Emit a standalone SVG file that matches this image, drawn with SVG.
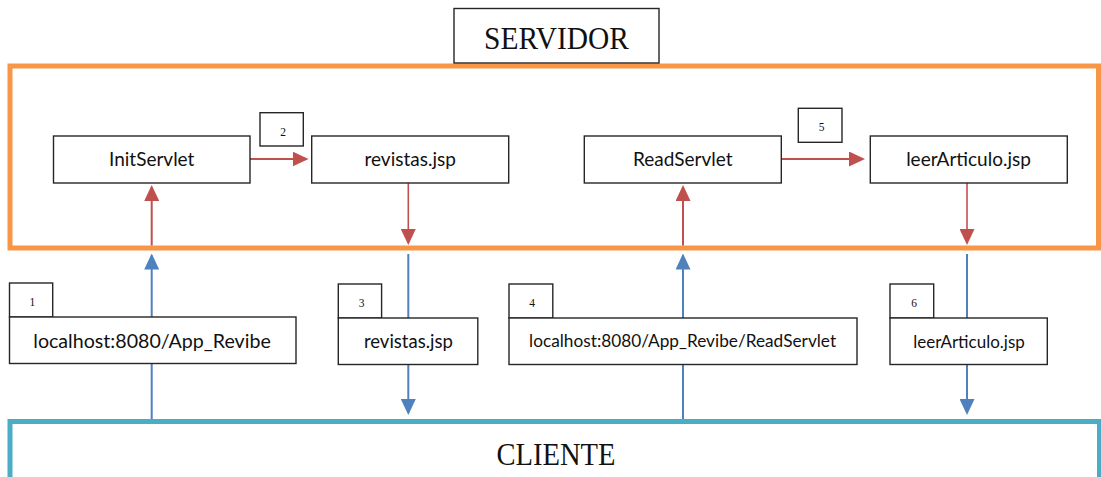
<svg xmlns="http://www.w3.org/2000/svg" width="1101" height="477" viewBox="0 0 1101 477">
  <style>
    .box { fill: #ffffff; stroke: #262626; stroke-width: 1.4; }
    .lbl { font-family: Lato, "Liberation Sans", sans-serif; fill: #111111; text-anchor: middle; }
    .num { font-family: "Liberation Serif", serif; font-size: 11.5px; fill: #111111; text-anchor: middle; }
    .title { font-family: "Liberation Serif", serif; font-size: 31px; fill: #111111; text-anchor: middle; }
    .red { stroke: #C0504D; stroke-width: 2; fill: none; }
    .redthin { stroke: #C0504D; stroke-width: 1.6; fill: none; }
    .blue { stroke: #4F81BD; stroke-width: 2; fill: none; }
  </style>
  <defs>
    <marker id="ahRed" viewBox="0 0 16 15" refX="14" refY="7.5" markerWidth="16" markerHeight="15" markerUnits="userSpaceOnUse" orient="auto">
      <path d="M0,0 L16,7.5 L0,15 z" fill="#C0504D"/>
    </marker>
    <marker id="ahBlue" viewBox="0 0 16 15" refX="14" refY="7.5" markerWidth="16" markerHeight="15" markerUnits="userSpaceOnUse" orient="auto">
      <path d="M0,0 L16,7.5 L0,15 z" fill="#4F81BD"/>
    </marker>
  </defs>
  <rect width="1101" height="477" fill="#ffffff"/>

  <g id="servidor-frame">
    <rect x="10" y="66" width="1088.5" height="182" fill="none" stroke="#F79646" stroke-width="5"/>
  </g>
  <g id="cliente">
    <rect x="10" y="421.5" width="1089.5" height="100" fill="none" stroke="#4BACC6" stroke-width="5"/>
    <text class="title" x="556" y="465" textLength="119" lengthAdjust="spacingAndGlyphs">CLIENTE</text>
  </g>

  <g id="connectors">
    <line class="red" x1="250" y1="159" x2="306.5" y2="159" marker-end="url(#ahRed)"/>
    <line class="red" x1="781.5" y1="159" x2="863" y2="159" marker-end="url(#ahRed)"/>
    <line class="red" x1="151.7" y1="245.5" x2="151.7" y2="187" marker-end="url(#ahRed)"/>
    <line class="red" x1="683" y1="245.5" x2="683" y2="187" marker-end="url(#ahRed)"/>
    <line class="redthin" x1="408.3" y1="183" x2="408.3" y2="243" marker-end="url(#ahRed)"/>
    <line class="redthin" x1="967" y1="183" x2="967" y2="243" marker-end="url(#ahRed)"/>
    <line class="blue" x1="151.7" y1="419" x2="151.7" y2="255.5" marker-end="url(#ahBlue)"/>
    <line class="blue" x1="683" y1="419" x2="683" y2="255.5" marker-end="url(#ahBlue)"/>
    <line class="blue" x1="408.3" y1="254" x2="408.3" y2="413" marker-end="url(#ahBlue)"/>
    <line class="blue" x1="967" y1="254" x2="967" y2="413" marker-end="url(#ahBlue)"/>
  </g>

  <g id="servidor">
    <rect class="box" x="454" y="8.5" width="205" height="54.5"/>
    <text class="title" x="556.5" y="49" textLength="145" lengthAdjust="spacingAndGlyphs">SERVIDOR</text>
  </g>

  <g id="initservlet">
    <rect class="box" x="53.5" y="136" width="196.5" height="47"/>
    <text class="lbl" x="151.7" y="166" font-size="19">InitServlet</text>
  </g>
  <g id="revistas-server">
    <rect class="box" x="311.7" y="136" width="197" height="47"/>
    <text class="lbl" x="410.2" y="166" font-size="19">revistas.jsp</text>
  </g>
  <g id="readservlet">
    <rect class="box" x="584.3" y="136" width="197" height="47"/>
    <text class="lbl" x="682.8" y="166" font-size="19">ReadServlet</text>
  </g>
  <g id="leerarticulo-server">
    <rect class="box" x="870.3" y="136" width="197" height="47"/>
    <text class="lbl" x="968.5" y="166" font-size="19">leerArticulo.jsp</text>
  </g>

  <g id="step2">
    <rect class="box" x="260" y="112.7" width="43.3" height="33.3"/>
    <text class="num" x="283" y="136">2</text>
  </g>
  <g id="step5">
    <rect class="box" x="798.3" y="108.3" width="43.7" height="34"/>
    <text class="num" x="821.5" y="131">5</text>
  </g>

  <g id="req1">
    <rect class="box" x="9.5" y="283" width="43.2" height="34"/>
    <text class="num" x="32.3" y="306">1</text>
    <rect class="box" x="9.5" y="317" width="286.5" height="46.5"/>
    <text class="lbl" x="152" y="348" font-size="18.5" textLength="237.5" lengthAdjust="spacingAndGlyphs">localhost:8080/App_Revibe</text>
  </g>
  <g id="resp3">
    <rect class="box" x="338.3" y="284" width="43.3" height="34"/>
    <text class="num" x="361.5" y="306.5">3</text>
    <rect class="box" x="338.3" y="318" width="139.5" height="46.5"/>
    <text class="lbl" x="408.4" y="348" font-size="18.5">revistas.jsp</text>
  </g>
  <g id="req4">
    <rect class="box" x="509" y="284" width="43.8" height="34"/>
    <text class="num" x="532" y="306.5">4</text>
    <rect class="box" x="509" y="318" width="348" height="46.5"/>
    <text class="lbl" x="682.6" y="347" font-size="16.5" textLength="307" lengthAdjust="spacingAndGlyphs">localhost:8080/App_Revibe/ReadServlet</text>
  </g>
  <g id="resp6">
    <rect class="box" x="890" y="284" width="43.7" height="34"/>
    <text class="num" x="914" y="306.5">6</text>
    <rect class="box" x="890" y="318" width="157.3" height="46.5"/>
    <text class="lbl" x="969" y="347.5" font-size="17">leerArticulo.jsp</text>
  </g>
</svg>
